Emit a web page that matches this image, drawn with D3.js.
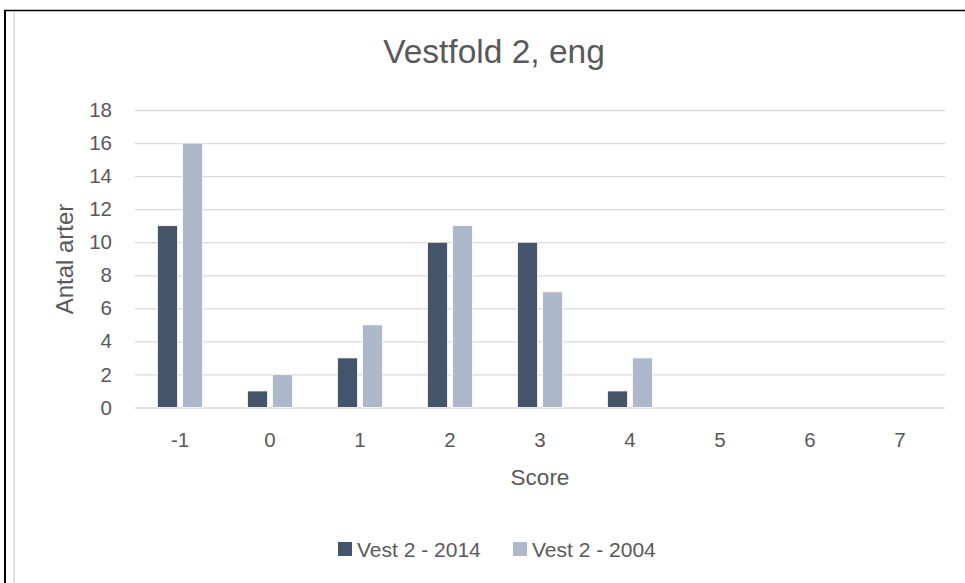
<!DOCTYPE html>
<html>
<head>
<meta charset="utf-8">
<script src="https://cdn.jsdelivr.net/npm/d3@7"></script>
<style>
  html, body { margin: 0; padding: 0; background: #fff; }
  svg { display: block; }
  text { font-family: "Liberation Sans", Arial, sans-serif; fill: #595959; }
</style>
</head>
<body>
<svg id="chart" width="965" height="583"></svg>
<script>
const categories = ["-1", "0", "1", "2", "3", "4", "5", "6", "7"];
const seriesNames = ["Vest 2 - 2014", "Vest 2 - 2004"];
const values2014 = [11, 1, 3, 10, 10, 1, 0, 0, 0];
const values2004 = [16, 2, 5, 11, 7, 3, 0, 0, 0];
const yTicks = [0, 2, 4, 6, 8, 10, 12, 14, 16, 18];
const colors = ["#44546A", "#ADB9CA"];
const chartTitle = "Vestfold 2, eng";
const xTitle = "Score";
const yTitle = "Antal arter";

const svg = d3.select("#chart");

// frame
svg.append("line").attr("x1", 4).attr("x2", 965).attr("y1", 10.5).attr("y2", 10.5)
  .attr("stroke", "#000").attr("stroke-width", 1.5);
svg.append("line").attr("x1", 5).attr("x2", 5).attr("y1", 10).attr("y2", 583)
  .attr("stroke", "#000").attr("stroke-width", 2);
svg.append("line").attr("x1", 14.3).attr("x2", 14.3).attr("y1", 12).attr("y2", 583)
  .attr("stroke", "#d9d9d9").attr("stroke-width", 1.5);

const plotLeft = 135, plotRight = 945, plotTop = 110, plotBottom = 407.5;

const x0 = d3.scaleBand().domain(categories).range([plotLeft, plotRight]).paddingInner(0.5).paddingOuter(0.25);
const x1 = d3.scaleBand().domain(seriesNames).range([0, x0.bandwidth()]).paddingInner(0.2);
const y = d3.scaleLinear().domain([0, 18]).range([plotBottom, plotTop]);

// gridlines
const yAxis = d3.axisLeft(y).tickValues(yTicks).tickSize(-(plotRight - plotLeft)).tickPadding(23);
const gy = svg.append("g").attr("transform", `translate(${plotLeft},0)`).call(yAxis);
gy.select(".domain").remove();
gy.selectAll(".tick line").attr("stroke", "#d9d9d9").attr("stroke-width", 1.3);
gy.selectAll(".tick text").style("font-family", '"Liberation Sans", Arial, sans-serif')
  .style("font-size", "20.5px").attr("fill", "#595959");

// bars
const data = categories.map((c, i) => ({ cat: c, vals: [values2014[i], values2004[i]] }));
const groups = svg.append("g").selectAll("g").data(data).join("g")
  .attr("transform", d => `translate(${x0(d.cat)},0)`);
groups.selectAll("rect").data(d => d.vals.map((v, j) => ({ name: seriesNames[j], v, j })))
  .join("rect")
  .attr("x", d => x1(d.name))
  .attr("width", x1.bandwidth())
  .attr("y", d => y(d.v))
  .attr("height", d => y(0) - y(d.v))
  .attr("fill", d => colors[d.j])
  .attr("stroke", "#fff").attr("stroke-width", 0.75);

// x axis labels
const xAxis = d3.axisBottom(x0).tickSize(0).tickPadding(25);
const gx = svg.append("g").attr("transform", `translate(0,${plotBottom})`).call(xAxis);
gx.select(".domain").remove();
gx.selectAll(".tick text").style("font-family", '"Liberation Sans", Arial, sans-serif')
  .style("font-size", "20.5px").attr("fill", "#595959");

// title
svg.append("text").attr("x", 494).attr("y", 63).attr("text-anchor", "middle")
  .style("font-size", "33.5px").text(chartTitle);

// axis titles
svg.append("text").attr("x", 540).attr("y", 485).attr("text-anchor", "middle")
  .style("font-size", "22.5px").text(xTitle);
svg.append("text").attr("transform", "translate(73,259) rotate(-90)").attr("text-anchor", "middle")
  .style("font-size", "24px").text(yTitle);

// legend
const legendItems = [{ x: 338, tx: 357 }, { x: 513, tx: 532 }];
const lg = svg.append("g");
seriesNames.forEach((n, i) => {
  lg.append("rect").attr("x", legendItems[i].x).attr("y", 542).attr("width", 14).attr("height", 14)
    .attr("fill", colors[i]);
  lg.append("text").attr("x", legendItems[i].tx).attr("y", 556.5)
    .style("font-size", "21px").text(n);
});
</script>
</body>
</html>
